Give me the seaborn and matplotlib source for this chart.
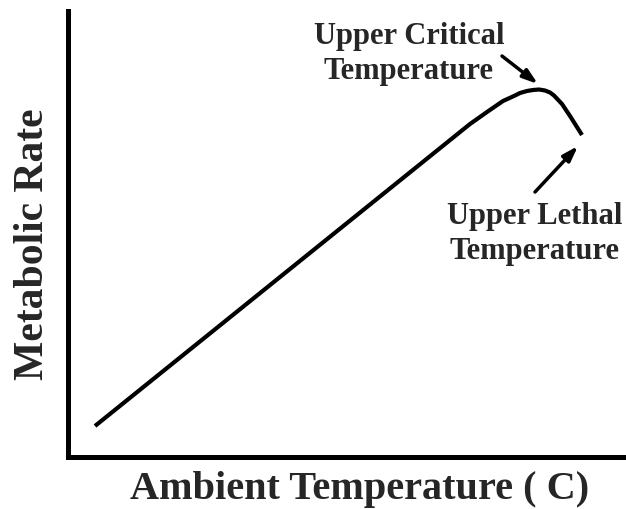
import matplotlib
matplotlib.use("Agg")
import matplotlib.pyplot as plt
import seaborn as sns
import pandas as pd

# Data (arbitrary units)
temperature = [27, 402, 419, 435, 446, 452, 459, 465, 471, 477, 482, 486, 494, 502, 514]
metabolic_rate = [31, 333, 345, 356, 361, 364, 366, 367, 367.5, 366.5, 364.5, 361.5, 353, 341, 322]

x_label = "Ambient Temperature ( C)"
y_label = "Metabolic Rate"
critical_label = "Upper Critical\nTemperature"
lethal_label = "Upper Lethal\nTemperature"

df = pd.DataFrame({"temp": temperature, "rate": metabolic_rate})

sns.set_style("white")
plt.rcParams["font.family"] = ["Liberation Serif", "DejaVu Serif"]

W, H = 626, 510
fig = plt.figure(figsize=(W / 100, H / 100), dpi=100)
left, right, top, bottom = 68, 626, 12, 458
ax = fig.add_axes([left / W, (H - bottom) / H, (right - left) / W, (bottom - top) / H])

sns.lineplot(data=df, x="temp", y="rate", ax=ax, color="black", linewidth=3.0,
             sort=False, solid_capstyle="butt", solid_joinstyle="round")

ax.set_xlim(0, right - left)
ax.set_ylim(0, bottom - top)
ax.set_xticks([])
ax.set_yticks([])

for s in ["top", "right"]:
    ax.spines[s].set_visible(False)
for s in ["left", "bottom"]:
    ax.spines[s].set_linewidth(3.6)
    ax.spines[s].set_color("black")

ax.set_xlabel(x_label, fontsize=29, fontweight="bold")
ax.set_ylabel(y_label, fontsize=30, fontweight="bold")
ax.xaxis.set_label_coords(0.523, -0.029)
ax.yaxis.set_label_coords(-0.029, 0.48)

arrow = dict(arrowstyle="-|>,head_length=0.9,head_width=0.3", color="black",
             lw=2.5, shrinkA=0, shrinkB=0)
ax.annotate("", xy=(470, 373), xytext=(434, 401), arrowprops=arrow)
ax.annotate("", xy=(510, 311), xytext=(467, 265), arrowprops=arrow)

ax.text(341, 404, critical_label, ha="center", va="center", fontsize=22,
        fontweight="bold", linespacing=1.3)
ax.text(467, 224, lethal_label, ha="center", va="center", fontsize=22,
        fontweight="bold", linespacing=1.3)

fig.savefig("out.png", dpi=100)
